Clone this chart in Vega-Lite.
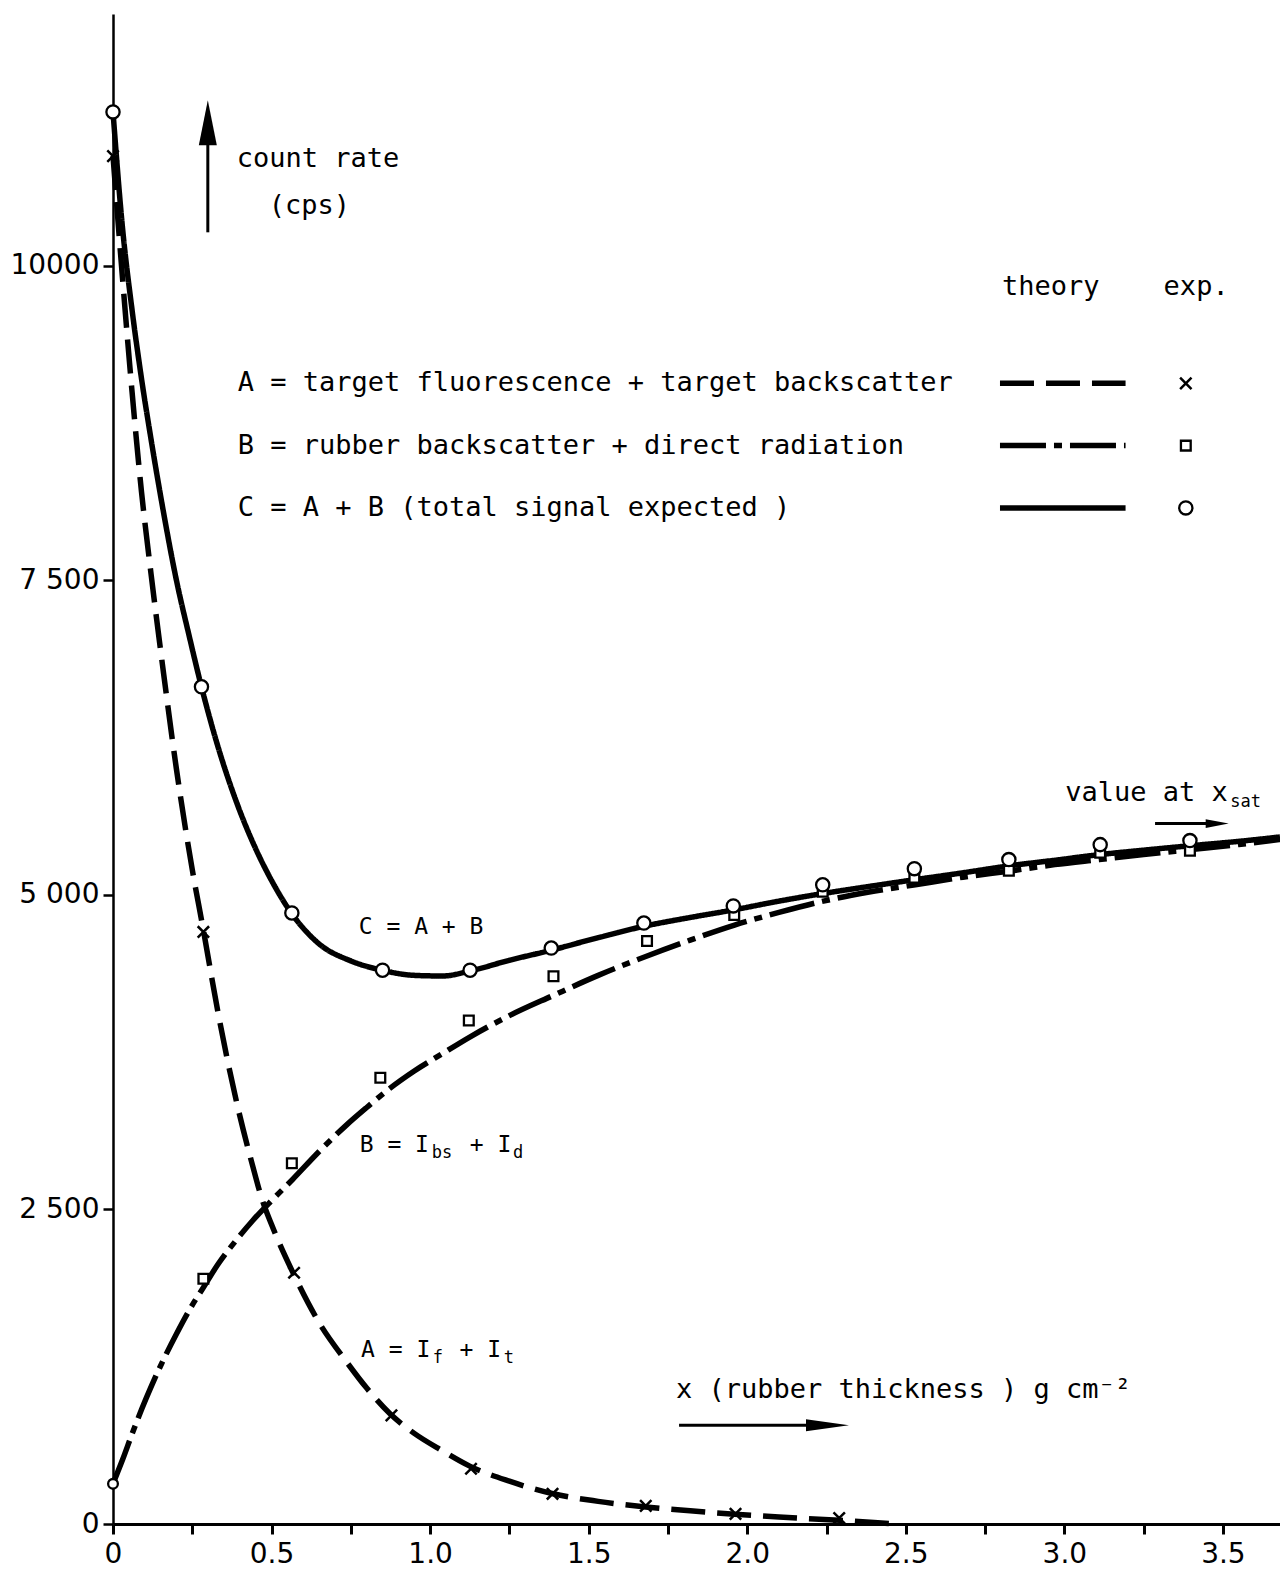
{
  "$schema": "https://vega.github.io/schema/vega-lite/v6.json",
  "width": 1167,
  "height": 1510,
  "autosize": {"type": "none"},
  "padding": {"left": 113, "top": 14, "right": 0, "bottom": 52},
  "background": "white",
  "config": {
    "view": {"stroke": null},
    "font": "DejaVu Sans Mono",
    "text": {"font": "DejaVu Sans Mono", "color": "black"}
  },
  "datasets": {
    "theory": [
      {"series": "A", "x": 0, "y": 10871}, {"series": "A", "x": 0.03, "y": 9900}, {"series": "A", "x": 0.06, "y": 9000},
      {"series": "A", "x": 0.09, "y": 8200}, {"series": "A", "x": 0.12, "y": 7550}, {"series": "A", "x": 0.16, "y": 6750},
      {"series": "A", "x": 0.2, "y": 6000}, {"series": "A", "x": 0.25, "y": 5200}, {"series": "A", "x": 0.285, "y": 4720},
      {"series": "A", "x": 0.33, "y": 4080}, {"series": "A", "x": 0.39, "y": 3350}, {"series": "A", "x": 0.44, "y": 2850},
      {"series": "A", "x": 0.47, "y": 2580}, {"series": "A", "x": 0.5, "y": 2380}, {"series": "A", "x": 0.567, "y": 2000},
      {"series": "A", "x": 0.65, "y": 1600}, {"series": "A", "x": 0.736, "y": 1290}, {"series": "A", "x": 0.8, "y": 1080},
      {"series": "A", "x": 0.872, "y": 880}, {"series": "A", "x": 0.95, "y": 720}, {"series": "A", "x": 1.04, "y": 580},
      {"series": "A", "x": 1.125, "y": 460}, {"series": "A", "x": 1.25, "y": 340}, {"series": "A", "x": 1.388, "y": 240},
      {"series": "A", "x": 1.53, "y": 180}, {"series": "A", "x": 1.68, "y": 135}, {"series": "A", "x": 1.82, "y": 105},
      {"series": "A", "x": 1.96, "y": 78}, {"series": "A", "x": 2.1, "y": 55}, {"series": "A", "x": 2.29, "y": 30},
      {"series": "A", "x": 2.4, "y": 12}, {"series": "A", "x": 2.47, "y": 0},

      {"series": "B", "x": 0, "y": 320}, {"series": "B", "x": 0.03, "y": 510}, {"series": "B", "x": 0.06, "y": 715},
      {"series": "B", "x": 0.09, "y": 910}, {"series": "B", "x": 0.12, "y": 1090}, {"series": "B", "x": 0.16, "y": 1310},
      {"series": "B", "x": 0.2, "y": 1510}, {"series": "B", "x": 0.25, "y": 1740}, {"series": "B", "x": 0.285, "y": 1880},
      {"series": "B", "x": 0.33, "y": 2060}, {"series": "B", "x": 0.39, "y": 2260}, {"series": "B", "x": 0.44, "y": 2410},
      {"series": "B", "x": 0.5, "y": 2570}, {"series": "B", "x": 0.567, "y": 2740}, {"series": "B", "x": 0.65, "y": 2960},
      {"series": "B", "x": 0.736, "y": 3170}, {"series": "B", "x": 0.8, "y": 3310}, {"series": "B", "x": 0.872, "y": 3460},
      {"series": "B", "x": 0.95, "y": 3600}, {"series": "B", "x": 1.04, "y": 3740}, {"series": "B", "x": 1.125, "y": 3870},
      {"series": "B", "x": 1.25, "y": 4040}, {"series": "B", "x": 1.388, "y": 4200}, {"series": "B", "x": 1.53, "y": 4360},
      {"series": "B", "x": 1.68, "y": 4510}, {"series": "B", "x": 1.82, "y": 4640}, {"series": "B", "x": 1.96, "y": 4760},
      {"series": "B", "x": 2.1, "y": 4860}, {"series": "B", "x": 2.24, "y": 4950}, {"series": "B", "x": 2.38, "y": 5020},
      {"series": "B", "x": 2.53, "y": 5080}, {"series": "B", "x": 2.68, "y": 5140}, {"series": "B", "x": 2.83, "y": 5190},
      {"series": "B", "x": 2.97, "y": 5240}, {"series": "B", "x": 3.11, "y": 5280}, {"series": "B", "x": 3.25, "y": 5320},
      {"series": "B", "x": 3.4, "y": 5360}, {"series": "B", "x": 3.55, "y": 5400}, {"series": "B", "x": 3.68, "y": 5440},

      {"series": "C", "x": 0, "y": 11222}, {"series": "C", "x": 0.03, "y": 10300}, {"series": "C", "x": 0.06, "y": 9650},
      {"series": "C", "x": 0.09, "y": 9100}, {"series": "C", "x": 0.12, "y": 8620}, {"series": "C", "x": 0.16, "y": 8030},
      {"series": "C", "x": 0.2, "y": 7500}, {"series": "C", "x": 0.24, "y": 7060}, {"series": "C", "x": 0.279, "y": 6653},
      {"series": "C", "x": 0.33, "y": 6186}, {"series": "C", "x": 0.39, "y": 5733}, {"series": "C", "x": 0.45, "y": 5366},
      {"series": "C", "x": 0.5, "y": 5114}, {"series": "C", "x": 0.564, "y": 4850}, {"series": "C", "x": 0.65, "y": 4610},
      {"series": "C", "x": 0.75, "y": 4475}, {"series": "C", "x": 0.85, "y": 4400}, {"series": "C", "x": 0.95, "y": 4360},
      {"series": "C", "x": 1.04, "y": 4355}, {"series": "C", "x": 1.126, "y": 4395}, {"series": "C", "x": 1.25, "y": 4480},
      {"series": "C", "x": 1.382, "y": 4560}, {"series": "C", "x": 1.53, "y": 4660}, {"series": "C", "x": 1.674, "y": 4750},
      {"series": "C", "x": 1.82, "y": 4820}, {"series": "C", "x": 1.956, "y": 4880}, {"series": "C", "x": 2.1, "y": 4950},
      {"series": "C", "x": 2.238, "y": 5010}, {"series": "C", "x": 2.38, "y": 5065}, {"series": "C", "x": 2.527, "y": 5120},
      {"series": "C", "x": 2.68, "y": 5175}, {"series": "C", "x": 2.825, "y": 5230}, {"series": "C", "x": 2.97, "y": 5275},
      {"series": "C", "x": 3.113, "y": 5320}, {"series": "C", "x": 3.25, "y": 5355}, {"series": "C", "x": 3.396, "y": 5390},
      {"series": "C", "x": 3.55, "y": 5425}, {"series": "C", "x": 3.68, "y": 5460}
    ],
    "measured": [
      {"series": "A", "x": 0, "y": 10871}, {"series": "A", "x": 0.285, "y": 4705}, {"series": "A", "x": 0.571, "y": 1997},
      {"series": "A", "x": 0.878, "y": 863}, {"series": "A", "x": 1.129, "y": 439}, {"series": "A", "x": 1.386, "y": 240},
      {"series": "A", "x": 1.68, "y": 144}, {"series": "A", "x": 1.963, "y": 80}, {"series": "A", "x": 2.29, "y": 48},

      {"series": "B", "x": 0, "y": 319}, {"series": "B", "x": 0.285, "y": 1949}, {"series": "B", "x": 0.564, "y": 2867},
      {"series": "B", "x": 0.843, "y": 3546}, {"series": "B", "x": 1.122, "y": 4002}, {"series": "B", "x": 1.389, "y": 4353},
      {"series": "B", "x": 1.684, "y": 4633}, {"series": "B", "x": 1.959, "y": 4840}, {"series": "B", "x": 2.238, "y": 5024},
      {"series": "B", "x": 2.527, "y": 5136}, {"series": "B", "x": 2.825, "y": 5192}, {"series": "B", "x": 3.113, "y": 5335},
      {"series": "B", "x": 3.396, "y": 5351},

      {"series": "C", "x": 0, "y": 11222}, {"series": "C", "x": 0.279, "y": 6653}, {"series": "C", "x": 0.564, "y": 4856},
      {"series": "C", "x": 0.85, "y": 4401}, {"series": "C", "x": 1.126, "y": 4401}, {"series": "C", "x": 1.382, "y": 4577},
      {"series": "C", "x": 1.674, "y": 4776}, {"series": "C", "x": 1.956, "y": 4912}, {"series": "C", "x": 2.238, "y": 5080},
      {"series": "C", "x": 2.527, "y": 5208}, {"series": "C", "x": 2.825, "y": 5280}, {"series": "C", "x": 3.113, "y": 5399},
      {"series": "C", "x": 3.396, "y": 5431}
    ],
    "key": [
      {"series": "A", "label": "A = target fluorescence + target backscatter", "y": 9065},
      {"series": "B", "label": "B = rubber backscatter + direct  radiation", "y": 8570},
      {"series": "C", "label": "C = A + B (total signal expected )", "y": 8075}
    ]
  },
  "layer": [
    {
      "data": {"name": "theory"},
      "mark": {"type": "line", "interpolate": "monotone", "color": "black", "strokeWidth": 5.5, "strokeCap": "butt"},
      "encoding": {
        "x": {
          "field": "x", "type": "quantitative",
          "scale": {"domain": [0, 3.68], "nice": false, "zero": false},
          "axis": {
            "title": null, "grid": false,
            "values": [0, 0.25, 0.5, 0.75, 1, 1.25, 1.5, 1.75, 2, 2.25, 2.5, 2.75, 3, 3.25, 3.5],
            "labelExpr": "datum.value == 0 ? '0' : (datum.value * 2 == floor(datum.value * 2) ? format(datum.value, '.1f') : '')",
            "domainColor": "black", "domainWidth": 3,
            "tickColor": "black", "tickWidth": 3, "tickSize": 10,
            "labelFont": "DejaVu Sans", "labelFontSize": 28, "labelColor": "black",
            "labelPadding": 6, "labelFlush": false, "labelOverlap": false, "labelBound": false
          }
        },
        "y": {
          "field": "y", "type": "quantitative",
          "scale": {"domain": [0, 12000], "nice": false},
          "axis": {
            "title": null, "grid": false,
            "values": [0, 2500, 5000, 7500, 10000],
            "labelExpr": "datum.value == 10000 ? '10000' : replace(format(datum.value, ','), ',', ' ')",
            "domainColor": "black", "domainWidth": 2.5,
            "tickColor": "black", "tickWidth": 2.5, "tickSize": 10,
            "labelFont": "DejaVu Sans", "labelFontSize": 28, "labelColor": "black",
            "labelPadding": 4, "labelFlush": false, "labelOverlap": false, "labelBound": false
          }
        },
        "strokeDash": {
          "field": "series", "type": "nominal", "legend": null,
          "scale": {"domain": ["A", "B", "C"], "range": [[34, 12], [46, 8, 8, 8], [1, 0]]}
        }
      }
    },
    {
      "data": {"name": "key"},
      "mark": {"type": "rule", "color": "black", "strokeWidth": 5.5, "strokeCap": "butt"},
      "encoding": {
        "x": {"datum": 2.797, "type": "quantitative"},
        "x2": {"datum": 3.193},
        "y": {"field": "y", "type": "quantitative"},
        "strokeDash": {"field": "series", "type": "nominal", "legend": null}
      }
    },
    {
      "data": {"name": "key"},
      "mark": {"type": "text", "align": "left", "baseline": "middle", "fontSize": 27},
      "encoding": {
        "x": {"datum": 0.393, "type": "quantitative"},
        "y": {"field": "y", "type": "quantitative"},
        "text": {"field": "label"}
      }
    },
    {
      "data": {"name": "measured"},
      "transform": [{"filter": "datum.series == 'A'"}],
      "mark": {"type": "point", "shape": "M-1,-1L1,1M-1,1L1,-1", "size": 130, "filled": false, "stroke": "black", "strokeWidth": 2.5, "opacity": 1},
      "encoding": {
        "x": {"field": "x", "type": "quantitative"},
        "y": {"field": "y", "type": "quantitative"}
      }
    },
    {
      "data": {"name": "measured"},
      "transform": [{"filter": "datum.series == 'B'"}],
      "mark": {"type": "point", "size": 95, "filled": false, "fill": "white", "fillOpacity": 1, "stroke": "black", "strokeWidth": 2.3, "opacity": 1},
      "encoding": {
        "x": {"field": "x", "type": "quantitative"},
        "y": {"field": "y", "type": "quantitative"},
        "shape": {"condition": {"test": "datum.x == 0", "value": "circle"}, "value": "square"}
      }
    },
    {
      "data": {"name": "measured"},
      "transform": [{"filter": "datum.series == 'C'"}],
      "mark": {"type": "point", "shape": "circle", "size": 175, "filled": false, "fill": "white", "fillOpacity": 1, "stroke": "black", "strokeWidth": 2.3, "opacity": 1},
      "encoding": {
        "x": {"field": "x", "type": "quantitative"},
        "y": {"field": "y", "type": "quantitative"}
      }
    },
    {
      "data": {"name": "key"},
      "transform": [{"filter": "datum.series == 'A'"}],
      "mark": {"type": "point", "shape": "M-1,-1L1,1M-1,1L1,-1", "size": 130, "filled": false, "stroke": "black", "strokeWidth": 2.5, "opacity": 1},
      "encoding": {
        "x": {"datum": 3.383, "type": "quantitative"},
        "y": {"field": "y", "type": "quantitative"}
      }
    },
    {
      "data": {"name": "key"},
      "transform": [{"filter": "datum.series == 'B'"}],
      "mark": {"type": "point", "shape": "square", "size": 95, "filled": false, "fill": "white", "fillOpacity": 1, "stroke": "black", "strokeWidth": 2.3, "opacity": 1},
      "encoding": {
        "x": {"datum": 3.383, "type": "quantitative"},
        "y": {"field": "y", "type": "quantitative"}
      }
    },
    {
      "data": {"name": "key"},
      "transform": [{"filter": "datum.series == 'C'"}],
      "mark": {"type": "point", "shape": "circle", "size": 175, "filled": false, "fill": "white", "fillOpacity": 1, "stroke": "black", "strokeWidth": 2.3, "opacity": 1},
      "encoding": {
        "x": {"datum": 3.383, "type": "quantitative"},
        "y": {"field": "y", "type": "quantitative"}
      }
    },
    {
      "data": {"values": [
        {"text": "count rate", "x": 0.39, "y": 10847},
        {"text": "(cps)", "x": 0.491, "y": 10471},
        {"text": "theory", "x": 2.803, "y": 9832},
        {"text": "exp.", "x": 3.313, "y": 9832},
        {"text": "x (rubber thickness ) g cm⁻²", "x": 1.775, "y": 1061},
        {"text": "value at x", "x": 3.003, "y": 5807}
      ]},
      "mark": {"type": "text", "align": "left", "baseline": "middle", "fontSize": 27},
      "encoding": {
        "x": {"field": "x", "type": "quantitative"},
        "y": {"field": "y", "type": "quantitative"},
        "text": {"field": "text"}
      }
    },
    {
      "data": {"values": [
        {"text": "C = A + B", "x": 0.775, "y": 4744},
        {"text": "B = I", "x": 0.778, "y": 3009},
        {"text": "+ I", "x": 1.125, "y": 3009},
        {"text": "A = I", "x": 0.782, "y": 1380},
        {"text": "+ I", "x": 1.093, "y": 1380}
      ]},
      "mark": {"type": "text", "align": "left", "baseline": "middle", "fontSize": 23},
      "encoding": {
        "x": {"field": "x", "type": "quantitative"},
        "y": {"field": "y", "type": "quantitative"},
        "text": {"field": "text"}
      }
    },
    {
      "data": {"values": [
        {"text": "bs", "x": 1.005, "y": 2950},
        {"text": "d", "x": 1.261, "y": 2950},
        {"text": "f", "x": 1.008, "y": 1322},
        {"text": "t", "x": 1.232, "y": 1322},
        {"text": "sat", "x": 3.523, "y": 5737}
      ]},
      "mark": {"type": "text", "align": "left", "baseline": "middle", "fontSize": 17},
      "encoding": {
        "x": {"field": "x", "type": "quantitative"},
        "y": {"field": "y", "type": "quantitative"},
        "text": {"field": "text"}
      }
    },
    {
      "data": {"values": [
        {"arrow": "count rate", "x": 0.299, "y": 10265, "x2": 0.299, "y2": 11150},
        {"arrow": "thickness", "x": 1.785, "y": 785, "x2": 2.26, "y2": 785},
        {"arrow": "saturation", "x": 3.286, "y": 5566, "x2": 3.49, "y2": 5566}
      ]},
      "mark": {"type": "rule", "color": "black", "strokeWidth": 3},
      "encoding": {
        "x": {"field": "x", "type": "quantitative"},
        "y": {"field": "y", "type": "quantitative"},
        "x2": {"field": "x2"},
        "y2": {"field": "y2"}
      }
    },
    {
      "data": {"values": [{"x": 0.299, "y": 11135}]},
      "mark": {"type": "point", "shape": "M0,-1L0.4,1L-0.4,1Z", "size": 2025, "filled": true, "color": "black", "opacity": 1},
      "encoding": {
        "x": {"field": "x", "type": "quantitative"},
        "y": {"field": "y", "type": "quantitative"}
      }
    },
    {
      "data": {"values": [{"x": 2.253, "y": 785}]},
      "mark": {"type": "point", "shape": "M1,0L-1,-0.28L-1,0.28Z", "size": 1849, "filled": true, "color": "black", "opacity": 1},
      "encoding": {
        "x": {"field": "x", "type": "quantitative"},
        "y": {"field": "y", "type": "quantitative"}
      }
    },
    {
      "data": {"values": [{"x": 3.482, "y": 5566}]},
      "mark": {"type": "point", "shape": "M1,0L-1,-0.39L-1,0.39Z", "size": 529, "filled": true, "color": "black", "opacity": 1},
      "encoding": {
        "x": {"field": "x", "type": "quantitative"},
        "y": {"field": "y", "type": "quantitative"}
      }
    }
  ]
}
